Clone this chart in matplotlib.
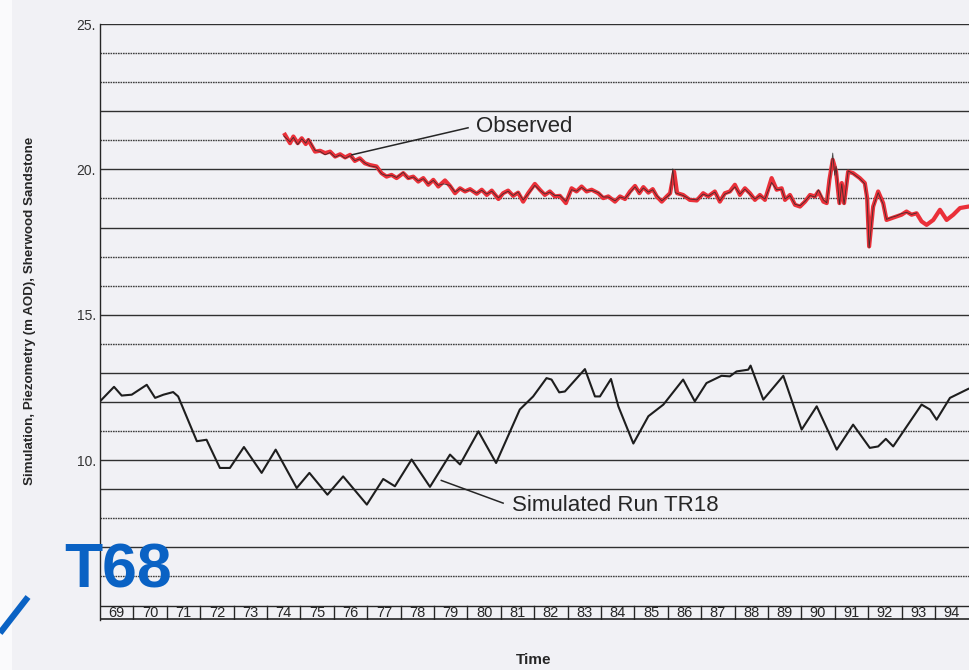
import matplotlib
matplotlib.use("Agg")
import matplotlib.pyplot as plt
from matplotlib.lines import Line2D
from matplotlib.patches import Rectangle

plt.rcParams['font.family'] = ['Liberation Sans', 'DejaVu Sans']

# simulated head, run TR18 (year, m AOD)
sim_year = [69.00, 69.42, 69.65, 69.95, 70.40, 70.65, 70.90, 71.19, 71.34, 71.90,
            72.19, 72.59, 72.89, 73.31, 73.84, 74.26, 74.89, 75.27, 75.81, 76.28,
            76.99, 77.48, 77.83, 78.33, 78.88, 79.48, 79.78, 80.33, 80.86, 81.57,
            81.97, 82.37, 82.52, 82.75, 82.92, 83.52, 83.82, 83.97, 84.30, 84.52,
            84.97, 85.42, 85.87, 86.46, 86.81, 87.16, 87.61, 87.86, 88.06, 88.41,
            88.48, 88.86, 89.46, 90.01, 90.46, 91.06, 91.55, 92.05, 92.30, 92.53,
            92.75, 93.60, 93.85, 94.05, 94.45, 95.00]
sim_head = [12.02, 12.52, 12.22, 12.25, 12.59, 12.14, 12.25, 12.34, 12.19, 10.65,
            10.70, 9.73, 9.73, 10.45, 9.56, 10.36, 9.04, 9.56, 8.81, 9.44,
            8.47, 9.35, 9.10, 10.02, 9.08, 10.19, 9.85, 10.99, 9.90, 11.74,
            12.19, 12.82, 12.77, 12.33, 12.36, 13.13, 12.19, 12.19, 12.79, 11.85,
            10.57, 11.51, 11.91, 12.77, 12.02, 12.65, 12.90, 12.88, 13.05, 13.11,
            13.25, 12.08, 12.90, 11.05, 11.85, 10.36, 11.22, 10.42, 10.47, 10.73,
            10.47, 11.91, 11.74, 11.39, 12.14, 12.45]

# observed piezometry, red trace
obs_year = [74.54, 74.69, 74.79, 74.92, 75.04, 75.16, 75.24, 75.44, 75.59, 75.74,
            75.89, 76.04, 76.19, 76.34, 76.49, 76.63, 76.78, 76.93, 77.08, 77.28,
            77.43, 77.58, 77.73, 77.88, 78.08, 78.23, 78.38, 78.53, 78.68, 78.83,
            78.98, 79.13, 79.33, 79.48, 79.63, 79.78, 79.93, 80.08, 80.28, 80.43,
            80.58, 80.73, 80.93, 81.07, 81.22, 81.37, 81.52, 81.67, 81.82, 82.02,
            82.17, 82.32, 82.47, 82.62, 82.77, 82.95, 83.12, 83.27, 83.42, 83.57,
            83.72, 83.92, 84.07, 84.22, 84.42, 84.57, 84.72, 84.87, 85.02, 85.15,
            85.27, 85.42, 85.55, 85.67, 85.82, 85.97, 86.07, 86.19, 86.28, 86.46,
            86.66, 86.87, 87.06, 87.21, 87.41, 87.56, 87.71, 87.86, 88.01, 88.16,
            88.31, 88.46, 88.61, 88.76, 88.91, 89.11, 89.26, 89.41, 89.51, 89.66,
            89.81, 89.96, 90.11, 90.26, 90.41, 90.51, 90.66, 90.76, 90.84, 90.94,
            91.04, 91.14, 91.21, 91.28, 91.40, 91.55, 91.75, 91.90, 91.97, 92.03,
            92.15, 92.30, 92.45, 92.55, 92.70, 92.85, 93.00, 93.15, 93.30, 93.45,
            93.60, 93.75, 93.95, 94.15, 94.35, 94.55, 94.75, 95.00]
obs_head = [21.19, 20.90, 21.13, 20.90, 21.07, 20.87, 21.01, 20.61, 20.64, 20.56,
            20.61, 20.44, 20.52, 20.41, 20.50, 20.29, 20.38, 20.21, 20.15, 20.10,
            19.87, 19.75, 19.81, 19.70, 19.87, 19.70, 19.75, 19.58, 19.70, 19.47,
            19.64, 19.41, 19.62, 19.43, 19.18, 19.35, 19.24, 19.32, 19.16, 19.30,
            19.12, 19.27, 18.98, 19.18, 19.27, 19.09, 19.20, 18.89, 19.18, 19.50,
            19.30, 19.12, 19.24, 19.07, 19.09, 18.84, 19.35, 19.24, 19.41, 19.24,
            19.30, 19.18, 19.01, 19.07, 18.89, 19.07, 18.98, 19.24, 19.43, 19.18,
            19.39, 19.20, 19.32, 19.07, 18.89, 19.07, 19.18, 19.92, 19.18, 19.12,
            18.95, 18.93, 19.18, 19.07, 19.24, 18.89, 19.18, 19.24, 19.47, 19.12,
            19.35, 19.18, 18.95, 19.12, 18.95, 19.70, 19.30, 19.35, 18.95, 19.12,
            18.78, 18.72, 18.89, 19.12, 19.07, 19.24, 18.89, 18.84, 19.64, 20.33,
            19.92, 18.84, 19.53, 18.84, 19.92, 19.87, 19.70, 19.53, 19.01, 17.35,
            18.72, 19.24, 18.84, 18.26, 18.32, 18.38, 18.44, 18.55, 18.44, 18.49,
            18.21, 18.09, 18.26, 18.61, 18.26, 18.44, 18.67, 18.72]

# observed piezometry, black record
rec_year = [74.50, 74.69, 74.79, 74.92, 75.04, 75.16, 75.24, 75.44, 75.59, 75.74,
            75.89, 76.04, 76.19, 76.34, 76.49, 76.63, 76.78, 76.93, 77.08, 77.28,
            77.43, 77.58, 77.73, 77.88, 78.08, 78.23, 78.38, 78.53, 78.68, 78.83,
            78.98, 79.13, 79.28, 79.48, 79.63, 79.78, 79.93, 80.08, 80.28, 80.43,
            80.58, 80.73, 80.93, 81.07, 81.22, 81.37, 81.52, 81.67, 81.82, 82.02,
            82.17, 82.32, 82.47, 82.62, 82.77, 82.95, 83.12, 83.27, 83.42, 83.57,
            83.72, 83.92, 84.07, 84.22, 84.42, 84.57, 84.72, 84.87, 85.02, 85.15,
            85.27, 85.42, 85.55, 85.67, 85.82, 85.97, 86.07, 86.15, 86.22, 86.46,
            86.66, 86.87, 87.06, 87.21, 87.41, 87.56, 87.71, 87.86, 88.01, 88.16,
            88.31, 88.46, 88.61, 88.76, 88.91, 89.11, 89.26, 89.41, 89.51, 89.66,
            89.81, 89.96, 90.11, 90.26, 90.41, 90.51, 90.66, 90.76, 90.84, 90.94,
            91.00, 91.04, 91.14, 91.21, 91.28, 91.40, 91.55, 91.75, 91.90, 91.97,
            92.03, 92.15, 92.30, 92.45, 92.55, 92.70, 92.85, 93.00, 93.15, 93.30,
            93.45]
rec_head = [21.15, 20.95, 21.10, 20.85, 21.05, 20.90, 21.05, 20.65, 20.62, 20.50,
            20.58, 20.42, 20.50, 20.38, 20.47, 20.30, 20.36, 20.22, 20.12, 20.08,
            19.85, 19.78, 19.80, 19.72, 19.90, 19.68, 19.74, 19.60, 19.68, 19.50,
            19.62, 19.45, 19.50, 19.45, 19.22, 19.34, 19.25, 19.30, 19.18, 19.28,
            19.15, 19.25, 19.02, 19.16, 19.25, 19.10, 19.22, 18.95, 19.15, 19.45,
            19.28, 19.15, 19.22, 19.10, 19.10, 18.90, 19.30, 19.25, 19.38, 19.26,
            19.28, 19.20, 19.05, 19.05, 18.92, 19.05, 19.00, 19.20, 19.40, 19.20,
            19.36, 19.22, 19.30, 19.10, 18.92, 19.05, 19.15, 20.02, 19.20, 19.10,
            18.98, 18.95, 19.15, 19.08, 19.22, 18.92, 19.15, 19.22, 19.40, 19.15,
            19.32, 19.15, 18.98, 19.10, 18.98, 19.55, 19.30, 19.32, 18.98, 19.10,
            18.80, 18.75, 18.90, 19.10, 19.05, 19.30, 18.95, 18.85, 19.55, 20.56,
            19.80, 20.10, 18.80, 19.50, 18.80, 19.95, 19.85, 19.68, 19.50, 18.95,
            17.30, 18.70, 19.20, 18.80, 18.28, 18.35, 18.40, 18.48, 18.52, 18.45,
            18.50]

years = list(range(69, 95))
grid_levels = list(range(6, 26))
solid_levels = [25, 22, 20, 18, 15, 13, 12, 10, 9, 7]
tick_levels = [10, 15, 20, 25]

paper = '#f1f1f5'
ink = '#262626'

fig = plt.figure(figsize=(9.69, 6.70), dpi=100, facecolor=paper)
fig.add_artist(Rectangle((0, 0), 12 / 969, 1, transform=fig.transFigure,
                         facecolor='#fafafc', edgecolor='none', zorder=0))

ax = fig.add_axes([100 / 969, 50 / 670, 869 / 969, 596 / 670])
ax.set_facecolor(paper)
ax.set_xlim(69, 95.02)
ax.set_ylim(4.5, 25)

for spine in ['top', 'right', 'bottom']:
    ax.spines[spine].set_visible(False)
ax.spines['left'].set_color(ink)
ax.spines['left'].set_linewidth(1.0)

# horizontal rulings
for lev in grid_levels:
    if lev in solid_levels:
        ax.axhline(lev, color='#303030', lw=1.0, zorder=1)
    else:
        ax.axhline(lev, color='#404040', lw=1.0, ls=(0, (1.2, 0.6)), zorder=1)

# year strip along the bottom
ax.axhline(4.98, color=ink, lw=1.0)
ax.axhline(4.52, color=ink, lw=1.2)
for yr in years[1:]:
    ax.plot([yr, yr], [4.52, 4.98], color=ink, lw=1.0)
for yr in years:
    ax.text(yr + 0.5, 4.75, str(yr), ha='center', va='center',
            fontsize=10.5, color=ink)

ax.set_xticks([])
ax.set_yticks(tick_levels)
ax.set_yticklabels([f'{t}.' for t in tick_levels], fontsize=10, color='#333333')
ax.tick_params(axis='y', length=0, pad=3)

ax.plot(sim_year, sim_head, color='#1e1e1e', lw=1.5, zorder=3,
        solid_joinstyle='round')
ax.plot(obs_year, obs_head, color='#ea3039', lw=3.0, zorder=3,
        solid_joinstyle='round')
ax.plot(rec_year, rec_head, color='#2a2a2a', lw=0.6, zorder=4, alpha=0.85)

# labels with leader lines
ax.plot([80.02, 76.54], [21.43, 20.50], color=ink, lw=1.1, zorder=5)
ax.text(80.26, 21.46, 'Observed', fontsize=16, color=ink,
        ha='left', va='center')
ax.plot([79.22, 81.07], [9.30, 8.52], color=ink, lw=1.1, zorder=5)
ax.text(81.34, 8.44, 'Simulated Run TR18', fontsize=16, color=ink,
        ha='left', va='center')

fig.text(30 / 969, 1 - 311 / 670, 'Simulation, Piezometry (m AOD), Sherwood Sandstone',
         rotation=90, ha='center', va='center', fontsize=9.6, fontweight='bold',
         color=ink)
fig.text(534 / 969, 1 - 660 / 670, 'Time', ha='center', va='center',
         fontsize=11, fontweight='bold', color=ink)

fig.text(64 / 969, 1 - 588 / 670, 'T68', ha='left', va='baseline',
         fontsize=45, fontweight='bold', color='#0a62c4', zorder=10)
fig.add_artist(Line2D([0, 28 / 969], [1 - 633 / 670, 1 - 597 / 670],
                      transform=fig.transFigure, color='#0a62c4', lw=4.5,
                      solid_capstyle='butt'))

fig.savefig('out.png', dpi=100, facecolor=paper)
